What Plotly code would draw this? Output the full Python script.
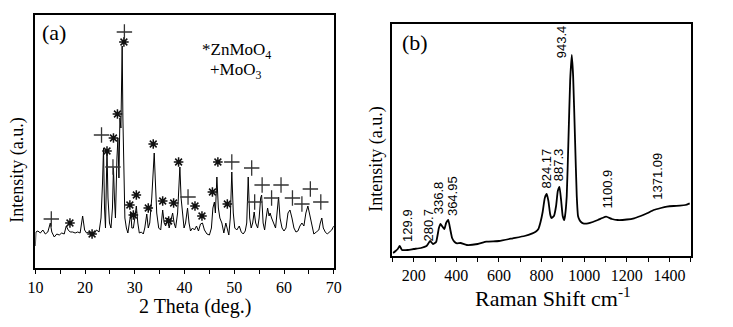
import plotly.graph_objects as go

# ---------------- Panel (a): XRD ----------------
xrd_deg = [10.0, 10.1, 10.5, 11.0, 11.5, 12.0, 12.5, 13.0, 13.3, 13.8, 14.3, 14.8, 15.3, 15.8,
           16.2, 16.6, 17.0, 17.5, 18.0, 18.5, 19.0, 19.5, 19.9, 20.3, 20.8, 21.3, 21.8, 22.3,
           22.8, 23.2, 23.5, 23.7, 23.9, 24.1, 24.4, 24.6, 24.9, 25.2, 25.5, 25.7, 25.9, 26.1,
           26.4, 26.6, 26.8, 27.0, 27.2, 27.45, 27.6, 27.8, 28.0, 28.3, 28.6, 28.9, 29.2, 29.4,
           29.7, 30.0, 30.3, 30.6, 30.9, 31.3, 31.7, 32.0, 32.4, 32.7, 33.0, 33.4, 33.7, 33.9,
           34.1, 34.4, 34.8, 35.2, 35.6, 35.9, 36.2, 36.6, 36.9, 37.2, 37.6, 37.9, 38.2, 38.6,
           38.85, 39.06, 39.3, 39.6, 39.9, 40.2, 40.6, 40.9, 41.2, 41.6, 42.0, 42.4, 42.8, 43.2,
           43.6, 44.0, 44.5, 45.0, 45.4, 45.7, 46.0, 46.2, 46.5, 46.8, 47.1, 47.5, 47.9, 48.3,
           48.6, 48.9, 49.2, 49.5, 49.8, 50.1, 50.5, 51.0, 51.4, 51.8, 52.2, 52.5, 52.8, 53.1,
           53.4, 53.7, 54.0, 54.3, 54.7, 55.0, 55.3, 55.5, 55.8, 56.1, 56.4, 56.7, 57.0, 57.2,
           57.5, 57.9, 58.3, 58.6, 58.9, 59.2, 59.6, 60.0, 60.4, 60.8, 61.2, 61.6, 62.0, 62.4,
           62.8, 63.2, 63.6, 64.0, 64.4, 64.8, 65.2, 65.6, 66.0, 66.5, 67.0, 67.3, 67.6, 67.9,
           68.3, 68.7, 69.2, 69.6, 70.0]
xrd_int = [22, 36, 37, 35, 38, 34, 36, 45, 36, 31, 34, 33, 35, 34,
           42, 38, 36, 36, 35, 36, 35, 52, 38, 35, 36, 32, 34, 38,
           36, 50, 85, 120, 60, 40, 118, 70, 45, 40, 60, 100, 70, 50,
           110, 130, 90, 150, 140, 222, 150, 70, 50, 40, 35, 45, 55, 40,
           40, 50, 62, 45, 35, 36, 34, 40, 54, 40, 45, 70, 95, 115,
           90, 55, 40, 38, 58, 45, 42, 50, 40, 47, 55, 45, 40, 55,
           90, 101, 70, 50, 40, 45, 60, 45, 37, 40, 38, 42, 37, 44,
           45, 38, 34, 33, 40, 60, 66, 55, 91, 60, 50, 45, 35, 45,
           38, 33, 50, 96, 55, 40, 38, 42, 36, 34, 37, 45, 91, 50,
           40, 45, 56, 45, 40, 50, 70, 73, 45, 38, 50, 60, 52, 55,
           50, 45, 40, 55, 71, 50, 40, 37, 40, 55, 58, 50, 40, 36,
           37, 42, 45, 42, 55, 62, 52, 42, 34, 36, 38, 45, 50, 40,
           36, 34, 36, 38, 42]

znmoo4_deg = [16.95, 21.4, 24.4, 25.7, 26.5, 27.8, 29.0, 29.7, 30.3, 32.7, 33.7, 35.6, 36.8,
              37.8, 38.8, 42.1, 43.5, 45.6, 46.7, 48.6]
znmoo4_int = [45, 34, 117, 130, 154, 226, 63, 53, 73, 60, 124, 67, 47,
              65, 106, 62, 52, 76, 106, 64]
moo3_deg = [13.2, 23.3, 25.6, 27.9, 40.7, 49.5, 53.5, 54.1, 55.6, 57.5, 59.4, 61.7, 63.6, 65.3, 67.4]
moo3_int = [49, 133, 101, 236, 71, 106, 100, 66, 83, 70, 83, 70, 64, 79, 66]

xrd_ticks = [10, 20, 30, 40, 50, 60, 70]

# ---------------- Panel (b): Raman ----------------
raman_shift = [103, 115, 125, 134, 145, 172, 200, 234, 260, 277, 290, 305, 318, 326, 336, 344,
               352, 362, 372, 380, 392, 403, 420, 449, 500, 541, 600, 665, 720, 757, 772, 785,
               795, 805, 815, 824, 832, 840, 846, 858, 868, 876, 884, 892, 899, 906, 910, 918,
               926, 934, 941.5, 948, 957, 965, 971, 978, 985, 995, 1018, 1040, 1064, 1085, 1103,
               1130, 1157, 1200, 1234, 1265, 1295, 1326, 1360, 1388, 1420, 1449, 1475, 1495]
raman_int = [3, 5, 7, 10, 6, 6, 7, 8, 10, 15, 12, 14, 28, 32, 29, 27,
             33, 36, 26, 18, 14, 12.7, 13, 11, 12, 14.3, 15, 17.7, 20, 22.7, 24.3, 27,
             34, 44, 58, 62, 55, 42, 38, 40, 50, 65, 69, 55, 40, 36, 40, 60,
             116, 175, 201, 180, 116, 60, 40, 36, 34, 32.7, 32.7, 34, 36, 38, 39.3,
             37, 36, 36.5, 37.7, 40, 42.7, 46, 48, 49.3, 50, 50.3, 51, 52.7]
raman_ticks = [200, 400, 600, 800, 1000, 1200, 1400]

raman_labels = ["129.9", "280.7", "336.8", "364.95", "824.17", "887.3", "943.4", "1100.9", "1371.09"]
raman_label_x = [168, 265, 315, 380, 823, 878, 892, 1105, 1340]
raman_label_y = [31, 31, 58, 60, 88, 91, 214, 67, 80]

SERIF = "Liberation Serif"
SANS = "Liberation Sans"
W, H = 733, 327

fig = go.Figure()
fig.add_trace(go.Scatter(x=xrd_deg, y=xrd_int, mode="lines",
                         line=dict(color="black", width=1), xaxis="x", yaxis="y"))
fig.add_trace(go.Scatter(x=znmoo4_deg, y=znmoo4_int, mode="markers",
                         marker=dict(symbol="asterisk-open", size=8, color="#111111",
                                     line=dict(color="#111111", width=1.5)),
                         xaxis="x", yaxis="y"))
fig.add_trace(go.Scatter(x=moo3_deg, y=moo3_int, mode="markers",
                         marker=dict(symbol="cross-thin-open", size=11, color="#333333",
                                     line=dict(color="#333333", width=1.3)),
                         xaxis="x", yaxis="y"))
fig.add_trace(go.Scatter(x=raman_shift, y=raman_int, mode="lines",
                         line=dict(color="black", width=1.8, shape="spline", smoothing=0.4),
                         xaxis="x2", yaxis="y2"))

axis_common = dict(showline=True, linecolor="black", linewidth=2, mirror=True,
                   showgrid=False, zeroline=False)

fig.update_layout(
    width=W, height=H, margin=dict(l=0, r=0, t=0, b=0),
    paper_bgcolor="white", plot_bgcolor="white", showlegend=False,
    xaxis=dict(domain=[28 / W, 333 / W], range=[10, 70], tickvals=xrd_ticks,
               ticks="outside", ticklen=4, tickwidth=1, tickcolor="black",
               minor=dict(dtick=5, tick0=10, ticks="outside", ticklen=4, tickcolor="black"),
               tickfont=dict(family=SERIF, size=16, color="black"), **axis_common),
    yaxis=dict(domain=[1 - 268 / H, 1 - 15 / H], range=[0, 253], showticklabels=False,
               ticks="", **axis_common),
    xaxis2=dict(domain=[393 / W, 698 / W], range=[100, 1500], tickvals=raman_ticks,
                ticks="outside", ticklen=4, tickwidth=1, tickcolor="black",
                minor=dict(dtick=100, tick0=100, ticks="outside", ticklen=4, tickcolor="black"),
                tickfont=dict(family=SERIF, size=16, color="black"), anchor="y2", **axis_common),
    yaxis2=dict(domain=[1 - 256 / H, 1 - 24 / H], range=[0, 232], showticklabels=False,
                ticks="", anchor="x2", **axis_common),
)

anns = [
    dict(text="(a)", x=47 / W, y=1 - 32 / H, font=dict(family=SERIF, size=22)),
    dict(text="(b)", x=416 / W, y=1 - 42 / H, font=dict(family=SERIF, size=22)),
    dict(text="*ZnMoO<sub>4</sub>", x=196 / W, y=1 - 51 / H, xanchor="left",
         font=dict(family=SERIF, size=17)),
    dict(text="+MoO<sub>3</sub>", x=204 / W, y=1 - 71 / H, xanchor="left",
         font=dict(family=SERIF, size=17)),
    dict(text="Intensity (a.u.)", x=10 / W, y=1 - 170 / H, textangle=-90,
         font=dict(family=SERIF, size=18)),
    dict(text="Intensity (a.u.)", x=376 / W, y=1 - 159 / H, textangle=-90,
         font=dict(family=SERIF, size=18)),
    dict(text="2 Theta (deg.)", x=191 / W, y=1 - 306 / H, font=dict(family=SERIF, size=20)),
    dict(text="Raman Shift cm<sup>-1</sup>", x=557 / W, y=1 - 297 / H,
         font=dict(family=SERIF, size=22)),
]
for a in anns:
    a.setdefault("xanchor", "center")
    a.update(xref="paper", yref="paper", yanchor="middle", showarrow=False)
    a["font"]["color"] = "black"
    fig.add_annotation(**a)

for lab, lx, ly in zip(raman_labels, raman_label_x, raman_label_y):
    fig.add_annotation(text=lab, x=lx, y=ly, xref="x2", yref="y2", textangle=-90,
                       showarrow=False, xanchor="center", yanchor="middle",
                       font=dict(family=SANS, size=13, color="black"))

fig.write_html("out.html")
